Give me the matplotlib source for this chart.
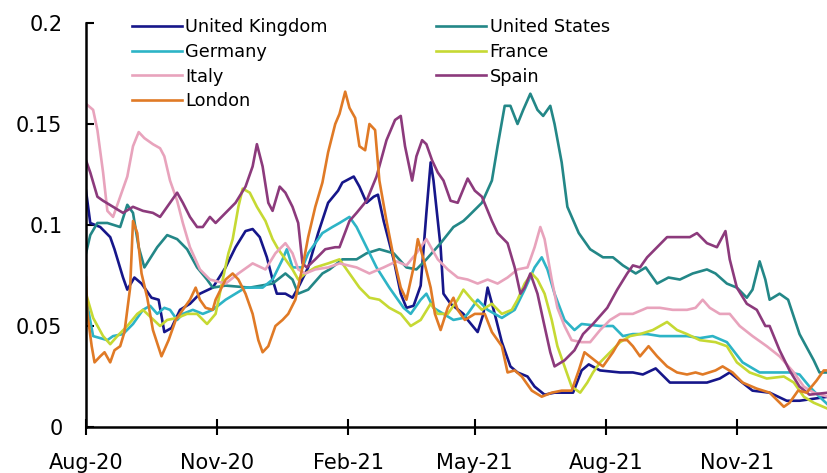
import matplotlib
matplotlib.use("Agg")
import matplotlib.pyplot as plt
import matplotlib.dates as mdates
import pandas as pd

START = pd.Timestamp("2020-08-01")

# Days since 1 Aug 2020 and values for each series
uk_days = [0, 3, 10, 17, 20, 26, 29, 34, 39, 46, 51, 55, 60, 66, 73, 80, 89, 98, 105, 112, 117, 122, 127, 131, 134, 140, 145, 149, 156, 163, 170, 177, 180, 188, 192, 197, 202, 205, 209, 216, 221, 225, 230, 235, 239, 242, 244, 249, 251, 256, 265, 268, 275, 279, 282, 287, 292, 298, 303, 310, 315, 322, 329, 336, 342, 348, 353, 361, 375, 384, 391, 400, 410, 424, 436, 445, 452, 459, 468, 480, 492, 501, 511, 521]
uk_vals = [.117, .101, .099, .094, .088, .074, .068, .074, .071, .064, .063, .047, .049, .058, .061, .066, .069, .079, .089, .097, .098, .094, .084, .073, .066, .066, .064, .069, .079, .096, .111, .117, .121, .124, .119, .111, .114, .115, .102, .083, .066, .059, .060, .070, .106, .131, .122, .089, .066, .061, .056, .053, .047, .056, .069, .056, .042, .030, .027, .025, .020, .016, .017, .017, .017, .028, .031, .028, .027, .027, .026, .029, .022, .022, .022, .024, .027, .023, .018, .017, .013, .013, .014, .015]

us_days = [0, 3, 8, 15, 24, 29, 33, 37, 41, 50, 57, 64, 71, 78, 85, 89, 98, 115, 131, 140, 145, 149, 156, 166, 171, 180, 190, 197, 206, 216, 225, 232, 239, 249, 258, 265, 268, 278, 285, 289, 294, 298, 303, 307, 312, 317, 321, 326, 329, 334, 338, 346, 354, 363, 370, 377, 386, 393, 401, 409, 417, 426, 436, 442, 450, 457, 464, 468, 473, 477, 480, 487, 493, 501, 511, 515, 521]
us_vals = [.086, .095, .101, .101, .099, .110, .106, .089, .079, .089, .095, .093, .088, .079, .073, .069, .070, .069, .071, .076, .073, .066, .068, .076, .078, .083, .083, .086, .088, .086, .079, .078, .083, .091, .099, .102, .104, .111, .122, .139, .159, .159, .150, .157, .165, .157, .154, .159, .150, .131, .109, .096, .088, .084, .084, .080, .076, .079, .071, .074, .073, .076, .078, .076, .071, .069, .064, .068, .082, .073, .063, .066, .063, .046, .033, .027, .027]

de_days = [0, 5, 15, 19, 26, 33, 40, 45, 50, 55, 59, 64, 68, 75, 82, 89, 98, 112, 124, 131, 138, 141, 145, 152, 156, 166, 173, 178, 185, 190, 197, 204, 213, 223, 228, 235, 239, 244, 251, 258, 265, 268, 275, 282, 292, 301, 308, 315, 320, 324, 329, 336, 343, 348, 361, 370, 377, 384, 394, 403, 422, 431, 440, 450, 461, 473, 482, 494, 501, 508, 515, 521]
de_vals = [.064, .045, .043, .045, .046, .051, .058, .060, .056, .059, .058, .053, .056, .058, .056, .058, .063, .069, .069, .073, .083, .088, .079, .079, .086, .096, .099, .101, .104, .099, .089, .079, .069, .059, .056, .063, .066, .059, .056, .053, .054, .056, .063, .058, .054, .058, .068, .079, .084, .078, .066, .053, .048, .051, .050, .050, .045, .046, .046, .045, .045, .044, .045, .042, .032, .027, .027, .027, .026, .020, .015, .011]

fr_days = [0, 5, 12, 17, 22, 29, 36, 40, 46, 52, 57, 64, 71, 78, 85, 91, 96, 100, 103, 107, 110, 115, 120, 126, 131, 135, 140, 145, 149, 154, 161, 170, 178, 185, 192, 199, 206, 213, 221, 228, 235, 242, 247, 254, 261, 265, 271, 278, 285, 292, 299, 303, 308, 313, 317, 322, 327, 331, 336, 341, 347, 352, 356, 361, 368, 375, 382, 389, 398, 408, 415, 422, 431, 442, 450, 457, 466, 478, 490, 497, 504, 511, 521]
fr_vals = [.066, .054, .045, .041, .045, .050, .056, .058, .054, .050, .053, .054, .056, .056, .051, .056, .073, .086, .093, .109, .118, .116, .109, .102, .093, .088, .083, .078, .073, .076, .079, .081, .083, .076, .069, .064, .063, .059, .056, .050, .053, .061, .056, .056, .063, .068, .063, .058, .061, .056, .058, .063, .071, .076, .073, .066, .053, .040, .030, .020, .017, .022, .027, .032, .037, .042, .045, .046, .048, .052, .048, .046, .043, .042, .040, .032, .027, .024, .025, .022, .015, .012, .009]

it_days = [0, 5, 8, 12, 15, 19, 24, 29, 33, 37, 41, 47, 52, 55, 59, 64, 68, 73, 80, 87, 98, 107, 117, 126, 133, 140, 145, 149, 154, 161, 170, 178, 190, 199, 209, 218, 225, 232, 239, 247, 254, 261, 268, 275, 282, 289, 296, 303, 310, 315, 319, 322, 327, 331, 336, 341, 348, 354, 361, 368, 375, 384, 394, 403, 412, 422, 428, 433, 438, 445, 452, 459, 468, 478, 487, 497, 504, 511, 521]
it_vals = [.160, .157, .147, .126, .107, .104, .114, .124, .139, .146, .143, .140, .138, .134, .122, .112, .101, .089, .078, .073, .071, .076, .081, .078, .086, .091, .086, .078, .076, .078, .079, .081, .079, .076, .079, .082, .080, .086, .093, .083, .078, .074, .073, .071, .073, .071, .074, .078, .079, .089, .099, .093, .073, .059, .050, .043, .042, .042, .048, .053, .056, .056, .059, .059, .058, .058, .059, .063, .059, .056, .056, .050, .045, .040, .035, .027, .020, .017, .015]

es_days = [0, 3, 8, 12, 19, 26, 33, 40, 47, 52, 57, 64, 68, 73, 78, 82, 87, 91, 98, 105, 112, 117, 120, 124, 128, 131, 136, 140, 145, 149, 152, 155, 161, 168, 175, 178, 185, 190, 197, 204, 211, 217, 221, 224, 229, 232, 236, 239, 243, 247, 251, 256, 261, 268, 273, 278, 285, 289, 296, 301, 305, 308, 312, 317, 321, 326, 329, 336, 343, 349, 356, 366, 373, 380, 384, 389, 394, 401, 408, 417, 424, 429, 436, 443, 449, 452, 457, 464, 471, 477, 480, 487, 494, 501, 508, 521]
es_vals = [.132, .126, .114, .112, .109, .106, .109, .107, .106, .104, .109, .116, .111, .104, .099, .099, .104, .101, .106, .111, .119, .129, .140, .129, .111, .107, .119, .116, .109, .101, .081, .079, .083, .088, .089, .089, .102, .106, .112, .124, .142, .152, .154, .139, .122, .134, .142, .140, .132, .126, .122, .112, .111, .123, .117, .114, .102, .096, .091, .079, .066, .069, .076, .066, .053, .037, .030, .033, .038, .046, .051, .059, .068, .076, .080, .079, .084, .089, .094, .094, .094, .096, .091, .089, .097, .083, .069, .061, .058, .050, .050, .038, .028, .020, .016, .017]

ldn_days = [0, 1, 4, 6, 10, 13, 17, 20, 24, 27, 31, 33, 36, 39, 43, 47, 53, 58, 63, 68, 73, 77, 80, 84, 89, 91, 98, 103, 107, 112, 117, 121, 124, 128, 133, 138, 142, 147, 152, 156, 161, 166, 170, 175, 178, 182, 185, 189, 192, 196, 199, 203, 206, 211, 216, 221, 225, 230, 233, 237, 242, 245, 249, 254, 258, 261, 266, 273, 280, 285, 292, 296, 301, 306, 313, 320, 327, 334, 341, 346, 350, 359, 363, 370, 375, 380, 384, 389, 395, 401, 408, 415, 422, 428, 433, 442, 447, 454, 461, 471, 480, 490, 494, 500, 506, 513, 518, 521]
ldn_vals = [.074, .056, .040, .032, .035, .037, .032, .038, .040, .047, .069, .102, .096, .076, .064, .048, .035, .043, .053, .058, .063, .069, .063, .059, .058, .063, .073, .076, .073, .066, .056, .043, .037, .040, .050, .053, .056, .063, .079, .094, .109, .121, .136, .150, .155, .166, .158, .153, .139, .137, .150, .147, .122, .102, .084, .069, .063, .079, .093, .083, .069, .056, .048, .059, .064, .058, .053, .056, .056, .047, .040, .027, .028, .025, .018, .015, .017, .018, .018, .028, .037, .032, .030, .037, .043, .043, .040, .035, .040, .035, .030, .027, .026, .027, .026, .028, .030, .027, .022, .019, .017, .010, .012, .018, .017, .023, .028, .028]

series = [
    ("United Kingdom", uk_days, uk_vals, "#16168A"),
    ("United States", us_days, us_vals, "#238787"),
    ("Germany", de_days, de_vals, "#2DB4C6"),
    ("France", fr_days, fr_vals, "#C6D933"),
    ("Italy", it_days, it_vals, "#E8A3BC"),
    ("Spain", es_days, es_vals, "#8C3A7C"),
    ("London", ldn_days, ldn_vals, "#E07A26"),
]

y_ticks = [0, 0.05, 0.1, 0.15, 0.2]
y_tick_labels = ["0", "0.05", "0.1", "0.15", "0.2"]
x_end_days = 521

plt.rcParams["font.family"] = ["DejaVu Sans"]

fig = plt.figure(figsize=(8.28, 4.73), dpi=100)
ax = fig.add_axes([86 / 828, 1 - 427 / 473, 1 - 86 / 828, (427 - 23) / 473])

handles = {}
for name, days, vals, color in series:
    dates = START + pd.to_timedelta(days, unit="D")
    (h,) = ax.plot(dates, vals, color=color, lw=1.9, label=name, solid_joinstyle="round")
    handles[name] = h

ax.set_ylim(0, 0.2)
ax.set_xlim(START, START + pd.Timedelta(days=x_end_days))
ax.set_yticks(y_ticks)
ax.set_yticklabels(y_tick_labels)
ax.xaxis.set_major_locator(mdates.MonthLocator(bymonth=[2, 5, 8, 11]))
ax.xaxis.set_major_formatter(mdates.DateFormatter("%b-%y"))

for s in ["top", "right"]:
    ax.spines[s].set_visible(False)
for s in ["left", "bottom"]:
    ax.spines[s].set_linewidth(1.8)
    ax.spines[s].set_color("black")

ax.tick_params(axis="y", direction="in", length=6, width=1.5, labelsize=15, pad=17)
ax.tick_params(axis="x", direction="inout", length=11, width=1.5, labelsize=15, pad=13.5)

order = ["United Kingdom", "Germany", "Italy", "London", "United States", "France", "Spain"]
fig.legend([handles[n] for n in order], order, loc="upper left",
           bbox_to_anchor=(132 / 828, 1 - 18 / 473), ncol=2, frameon=False,
           fontsize=12.8, handlelength=2.8, handletextpad=0.2, columnspacing=6.1,
           labelspacing=0.38, borderpad=0, borderaxespad=0)

fig.savefig("out.png", dpi=100)
